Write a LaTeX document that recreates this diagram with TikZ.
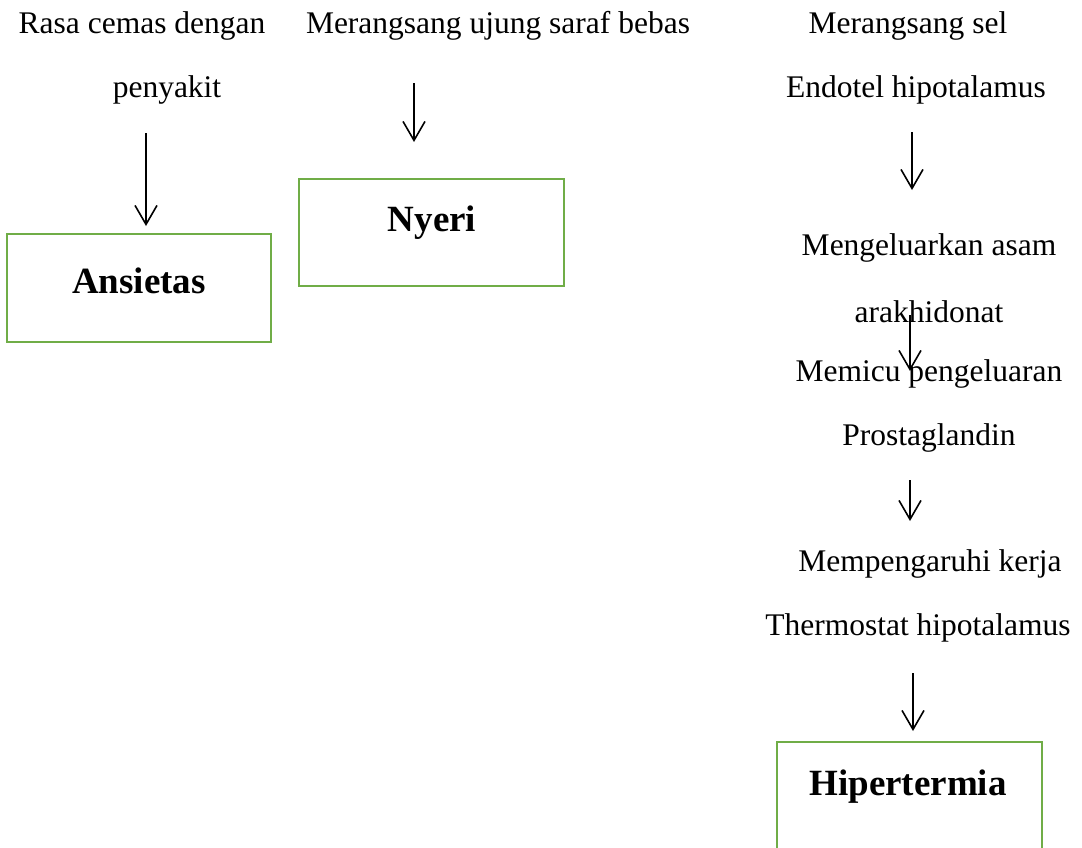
\documentclass[tikz,border=0pt]{standalone}
\usepackage{fontspec}
\setmainfont{Liberation Serif}
\usetikzlibrary{arrows.meta}
\definecolor{boxgreen}{RGB}{112,173,71}
\begin{document}
\begin{tikzpicture}[x=1pt,y=-1pt,
  lbl/.style={inner sep=0pt,font=\fontsize{31.5}{38}\selectfont},
  ttl/.style={inner sep=0pt,font=\fontsize{37}{44}\selectfont\bfseries},
  gbox/.style={draw=boxgreen,line width=2.4pt},
  arr/.style={line width=1.6pt,-{Straight Barb[length=19pt,width=22pt,line width=1.6pt]}}]
\useasboundingbox (0,0) rectangle (1082,847);
\clip (0,0) rectangle (1082,847);
% column 1
\node[lbl] (t1a) at (142,26) {Rasa cemas dengan};
\node[lbl] (t1b) at (167,90) {penyakit};
\draw[gbox] (7,234) rectangle (271,342);
\node[ttl] (ans) at (139,281) {Ansietas};
\coordinate (a1s) at (146,133);
\coordinate (a1e) at (146,226);
\draw[arr] (a1s) -- (a1e);
% column 2
\node[lbl] (t2) at (498,26) {Merangsang ujung saraf bebas};
\draw[gbox] (299,179) rectangle (564,286);
\node[ttl] (nye) at (432,223) {Nyeri};
\coordinate (a2s) at (414,83);
\coordinate (a2e) at (414,142);
\draw[arr] (a2s) -- (a2e);
% column 3
\node[lbl] (t3a) at (908,26) {Merangsang sel};
\node[lbl] (t3b) at (916,90) {Endotel hipotalamus};
\node[lbl] (t3c) at (929,248) {Mengeluarkan asam};
\node[lbl] (t3d) at (929,312) {arakhidonat};
\node[lbl] (t3e) at (929,374) {Memicu pengeluaran};
\node[lbl] (t3f) at (929,438) {Prostaglandin};
\node[lbl] (t3g) at (930,564) {Mempengaruhi kerja};
\node[lbl] (t3h) at (918,628) {Thermostat hipotalamus};
\draw[gbox] (777,742) rectangle (1042,870);
\node[ttl] (hip) at (908,787) {Hipertermia};
\coordinate (a3s) at (912,132);
\coordinate (a3e) at (912,190);
\draw[arr] (a3s) -- (a3e);
\coordinate (a4s) at (910,315);
\coordinate (a4e) at (910,371);
\draw[arr] (a4s) -- (a4e);
\coordinate (a5s) at (910,480);
\coordinate (a5e) at (910,521);
\draw[arr] (a5s) -- (a5e);
\coordinate (a6s) at (913,673);
\coordinate (a6e) at (913,731);
\draw[arr] (a6s) -- (a6e);
\end{tikzpicture}
\end{document}
